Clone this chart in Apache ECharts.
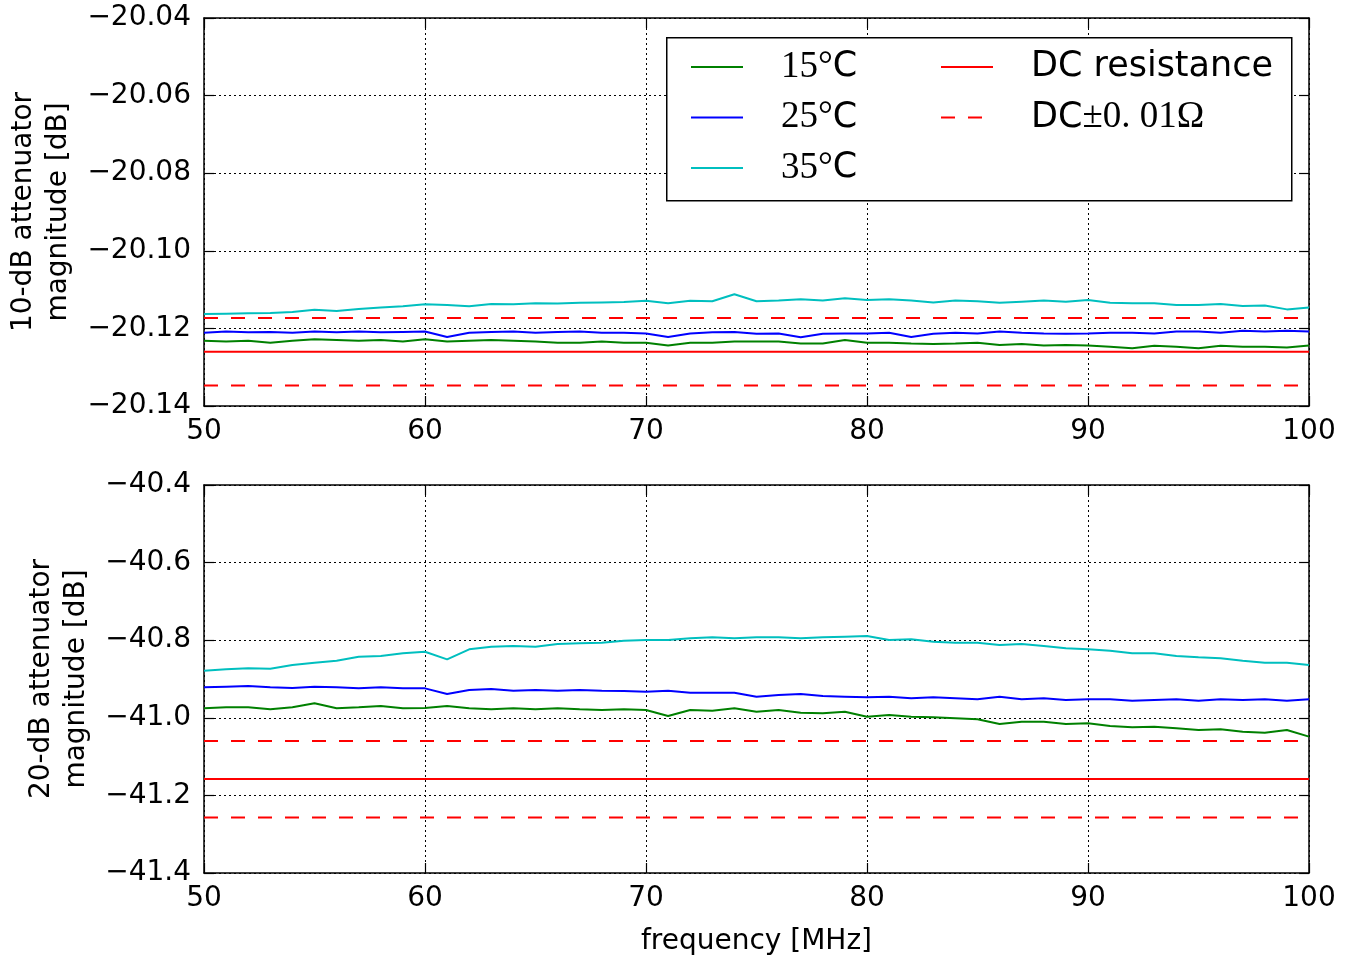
<!DOCTYPE html>
<html>
<head>
<meta charset="utf-8">
<script src="https://cdn.jsdelivr.net/npm/echarts@6/dist/echarts.min.js"></script>
<style>html,body{margin:0;padding:0;background:#fff;}#c{width:1355px;height:958px;}</style>
</head>
<body>
<div id="c"></div>
<script>
var freq = [50,51,52,53,54,55,56,57,58,59,60,61,62,63,64,65,66,67,68,69,70,71,72,73,74,75,76,77,78,79,80,81,82,83,84,85,86,87,88,89,90,91,92,93,94,95,96,97,98,99,100];
var freqEnds = [50, 100];

// 10-dB attenuator
var top15 = [-20.1232,-20.1234,-20.1232,-20.1237,-20.1232,-20.1228,-20.1230,-20.1232,-20.1230,-20.1234,-20.1228,-20.1234,-20.1232,-20.1230,-20.1232,-20.1234,-20.1237,-20.1237,-20.1234,-20.1237,-20.1237,-20.1244,-20.1237,-20.1237,-20.1234,-20.1234,-20.1234,-20.1239,-20.1239,-20.1230,-20.1237,-20.1237,-20.1239,-20.1240,-20.1239,-20.1237,-20.1243,-20.1240,-20.1244,-20.1243,-20.1244,-20.1247,-20.1251,-20.1245,-20.1247,-20.1251,-20.1245,-20.1247,-20.1247,-20.1249,-20.1244];
var top25 = [-20.1211,-20.1208,-20.1210,-20.1209,-20.1211,-20.1208,-20.1210,-20.1208,-20.1210,-20.1209,-20.1208,-20.1222,-20.1211,-20.1209,-20.1208,-20.1211,-20.1209,-20.1208,-20.1211,-20.1211,-20.1213,-20.1222,-20.1213,-20.1210,-20.1209,-20.1214,-20.1213,-20.1223,-20.1214,-20.1213,-20.1213,-20.1211,-20.1222,-20.1214,-20.1211,-20.1213,-20.1208,-20.1211,-20.1213,-20.1214,-20.1213,-20.1211,-20.1211,-20.1213,-20.1208,-20.1208,-20.1211,-20.1206,-20.1208,-20.1206,-20.1208];
var top35 = [-20.1163,-20.1162,-20.1161,-20.1160,-20.1158,-20.1152,-20.1155,-20.1150,-20.1146,-20.1143,-20.1138,-20.1140,-20.1143,-20.1137,-20.1138,-20.1135,-20.1136,-20.1134,-20.1133,-20.1132,-20.1129,-20.1135,-20.1129,-20.1130,-20.1112,-20.1130,-20.1128,-20.1125,-20.1128,-20.1122,-20.1127,-20.1125,-20.1128,-20.1133,-20.1128,-20.1130,-20.1134,-20.1131,-20.1128,-20.1131,-20.1127,-20.1134,-20.1135,-20.1135,-20.1140,-20.1140,-20.1137,-20.1142,-20.1141,-20.1151,-20.1146];
var topDC = [-20.1260, -20.1260];
var topDCHi = [-20.1173, -20.1173];
var topDCLo = [-20.1347, -20.1347];

// 20-dB attenuator
var bot15 = [-40.9756,-40.9730,-40.9730,-40.9782,-40.9730,-40.9627,-40.9756,-40.9730,-40.9696,-40.9756,-40.9747,-40.9696,-40.9756,-40.9782,-40.9756,-40.9782,-40.9756,-40.9782,-40.9799,-40.9782,-40.9799,-40.9954,-40.9799,-40.9816,-40.9756,-40.9842,-40.9799,-40.9868,-40.9885,-40.9842,-40.9971,-40.9928,-40.9971,-40.9988,-41.0014,-41.0040,-41.0160,-41.0100,-41.0100,-41.0160,-41.0143,-41.0211,-41.0246,-41.0229,-41.0272,-41.0314,-41.0298,-41.0357,-41.0383,-41.0314,-41.0486];
var bot25 = [-40.9215,-40.9198,-40.9180,-40.9215,-40.9232,-40.9198,-40.9215,-40.9241,-40.9215,-40.9241,-40.9241,-40.9387,-40.9284,-40.9258,-40.9302,-40.9284,-40.9302,-40.9284,-40.9302,-40.9310,-40.9327,-40.9302,-40.9352,-40.9352,-40.9352,-40.9455,-40.9412,-40.9387,-40.9438,-40.9455,-40.9472,-40.9455,-40.9498,-40.9472,-40.9498,-40.9524,-40.9455,-40.9524,-40.9498,-40.9541,-40.9524,-40.9524,-40.9558,-40.9541,-40.9524,-40.9558,-40.9524,-40.9541,-40.9524,-40.9558,-40.9524];
var bot35 = [-40.8785,-40.8751,-40.8725,-40.8734,-40.8639,-40.8579,-40.8528,-40.8424,-40.8407,-40.8338,-40.8296,-40.8493,-40.8235,-40.8167,-40.8149,-40.8167,-40.8098,-40.8081,-40.8064,-40.8012,-40.7995,-40.7995,-40.7952,-40.7926,-40.7952,-40.7926,-40.7926,-40.7952,-40.7926,-40.7909,-40.7892,-40.7995,-40.7978,-40.8038,-40.8064,-40.8064,-40.8124,-40.8098,-40.8149,-40.8210,-40.8235,-40.8270,-40.8338,-40.8338,-40.8407,-40.8442,-40.8468,-40.8528,-40.8579,-40.8579,-40.8639];
var botDC = [-41.158, -41.158];
var botDCHi = [-41.060, -41.060];
var botDCLo = [-41.257, -41.257];

var xTicks = {min: 50, max: 100, interval: 10};
var topY = {min: -20.14, max: -20.04, interval: 0.02};
var botY = {min: -41.4, max: -40.4, interval: 0.2};

var nameTemp15 = '15°C', nameTemp25 = '25°C', nameTemp35 = '35°C';
var nameDC = 'DC resistance', nameDCpm = 'DC±0.01Ω';

function zip(xs, ys) { return xs.map(function (x, i) { return [x, ys[i]]; }); }
function fmt(d) { return function (v) { return (v < 0 ? '\u2212' : '') + Math.abs(v).toFixed(d); }; }

var FONT = 'DejaVu Sans';
var dotted = {show: true, lineStyle: {color: '#000', width: 1, type: [2, 3]}};
var axLine = {show: true, lineStyle: {color: '#000', width: 1.5}};
var tick = {show: true, inside: true, length: 10, lineStyle: {color: '#000', width: 1.2}};

function xAxes(gi) {
  return [
    {gridIndex: gi, type: 'value', position: 'bottom', min: xTicks.min, max: xTicks.max, interval: xTicks.interval,
     axisLine: axLine, axisTick: tick, splitLine: dotted,
     axisLabel: {color: '#000', fontSize: 28, fontFamily: FONT, margin: 12},
     name: gi === 1 ? 'frequency [MHz]' : '', nameLocation: 'middle', nameGap: 55,
     nameTextStyle: {color: '#000', fontSize: 28, fontFamily: FONT}},
    {gridIndex: gi, type: 'value', position: 'top', min: xTicks.min, max: xTicks.max, interval: xTicks.interval,
     axisLine: axLine, axisTick: tick, splitLine: {show: false}, axisLabel: {show: false}}
  ];
}
function yAxes(gi, r, d, nm, gap) {
  return [
    {gridIndex: gi, type: 'value', position: 'left', min: r.min, max: r.max, interval: r.interval,
     axisLine: axLine, axisTick: tick, splitLine: dotted,
     axisLabel: {color: '#000', fontSize: 28, fontFamily: FONT, margin: 13, formatter: fmt(d)},
     name: nm, nameLocation: 'middle', nameGap: gap,
     nameTextStyle: {color: '#000', fontSize: 28, fontFamily: FONT, lineHeight: 35}},
    {gridIndex: gi, type: 'value', position: 'right', min: r.min, max: r.max, interval: r.interval,
     axisLine: axLine, axisTick: tick, splitLine: {show: false}, axisLabel: {show: false}}
  ];
}
function line(name, xi, yi, xs, ys, color, dashed) {
  return {name: name, type: 'line', xAxisIndex: xi, yAxisIndex: yi, data: zip(xs, ys),
    symbol: 'none', showSymbol: false, silent: true, z: dashed === undefined ? 3 : 2,
    lineStyle: {color: color, width: 2, type: dashed ? [14, 13] : 'solid'},
    itemStyle: {color: color}};
}

var legendText = {};
legendText[nameTemp15] = '{m|15°}{n|C}';
legendText[nameTemp25] = '{m|25°}{n|C}';
legendText[nameTemp35] = '{m|35°}{n|C}';
legendText[nameDC] = '{n|DC resistance}';
legendText[nameDCpm] = '{n|DC}{m|±0. 01Ω}';
var legRich = {
  m: {fontFamily: 'Liberation Serif', fontSize: 37, color: '#000', lineHeight: 38},
  n: {fontFamily: FONT, fontSize: 35, color: '#000', lineHeight: 38}
};
function legend(left, names) {
  return {left: left, top: 48, padding: 0, orient: 'vertical', itemWidth: 52, itemHeight: 14, itemGap: 12.5,
    data: names, selectedMode: false, z: 10,
    itemStyle: {opacity: 0},
    formatter: function (n) { return legendText[n]; },
    textStyle: {rich: legRich, padding: [0, 0, 0, 33], lineHeight: 38}};
}

var chart = echarts.init(document.getElementById('c'), null, {renderer: 'canvas'});
chart.setOption({
  animation: false,
  backgroundColor: '#fff',
  grid: [
    {left: 204, top: 18, width: 1105, height: 388, outerBoundsMode: 'none', containLabel: false},
    {left: 204, top: 485, width: 1105, height: 388, outerBoundsMode: 'none', containLabel: false}
  ],
  xAxis: xAxes(0).concat(xAxes(1)),
  yAxis: yAxes(0, topY, 2, '10-dB attenuator\nmagnitude [dB]', 126).concat(yAxes(1, botY, 1, '20-dB attenuator\nmagnitude [dB]', 110)),
  legend: [legend(690, [nameTemp15, nameTemp25, nameTemp35]), legend(940, [nameDC, nameDCpm])],
  graphic: [{type: 'rect', left: 666, top: 37, z: 5, shape: {width: 625, height: 163},
    style: {fill: '#fff', stroke: '#000', lineWidth: 1.5}}],
  series: [
    line(nameTemp15, 0, 0, freq, top15, '#008000'),
    line(nameTemp25, 0, 0, freq, top25, '#0000ff'),
    line(nameTemp35, 0, 0, freq, top35, '#00bfbf'),
    line(nameDC, 0, 0, freqEnds, topDC, '#ff0000', false),
    line(nameDCpm, 0, 0, freqEnds, topDCHi, '#ff0000', true),
    line(nameDCpm, 0, 0, freqEnds, topDCLo, '#ff0000', true),
    line(nameTemp15, 2, 2, freq, bot15, '#008000'),
    line(nameTemp25, 2, 2, freq, bot25, '#0000ff'),
    line(nameTemp35, 2, 2, freq, bot35, '#00bfbf'),
    line(nameDC, 2, 2, freqEnds, botDC, '#ff0000', false),
    line(nameDCpm, 2, 2, freqEnds, botDCHi, '#ff0000', true),
    line(nameDCpm, 2, 2, freqEnds, botDCLo, '#ff0000', true)
  ]
});
</script>
</body>
</html>
